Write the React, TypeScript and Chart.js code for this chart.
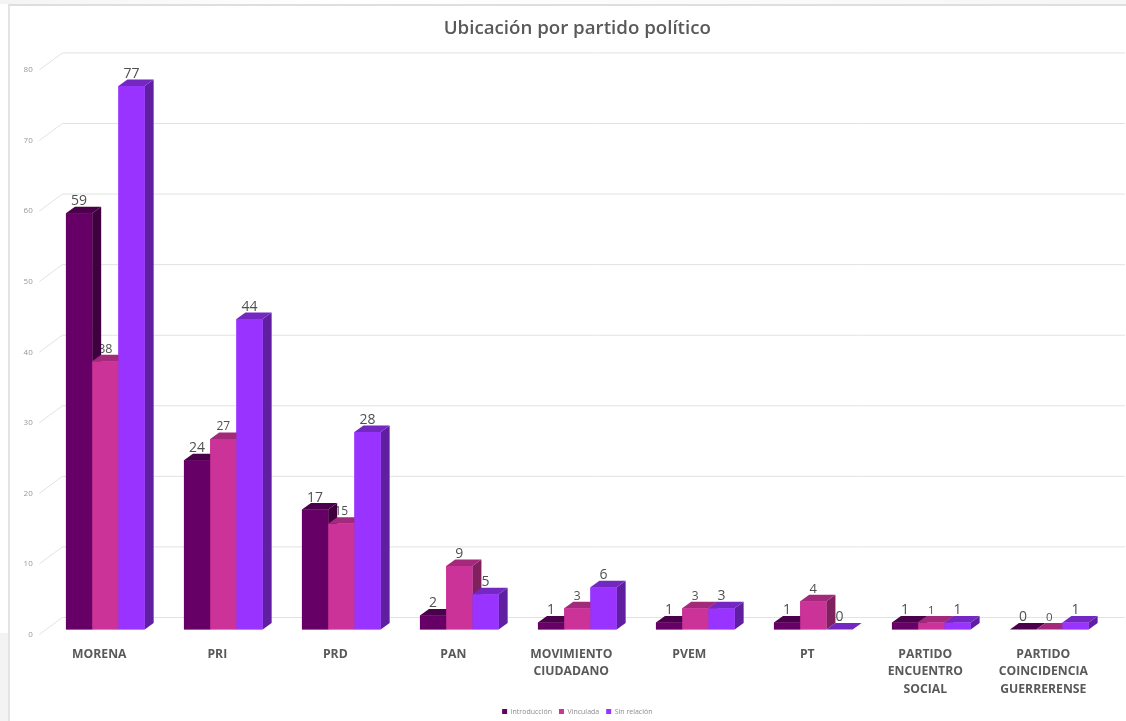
import React, { useEffect, useRef } from "react";
import { Chart, registerables } from "chart.js";

Chart.register(...registerables);

const categories: (string | string[])[] = [
  "MORENA",
  "PRI",
  "PRD",
  "PAN",
  ["MOVIMIENTO", "CIUDADANO"],
  "PVEM",
  "PT",
  ["PARTIDO", "ENCUENTRO", "SOCIAL"],
  ["PARTIDO", "COINCIDENCIA", "GUERRERENSE"],
];
const introduccion = [59, 24, 17, 2, 1, 1, 1, 1, 0];
const vinculada = [38, 27, 15, 9, 3, 3, 4, 1, 0];
const sinRelacion = [77, 44, 28, 5, 6, 3, 0, 1, 1];

const seriesNames = ["Introducción", "Vinculada", "Sin relación"];
const frontColors = ["#660066", "#cc3399", "#9933ff"];
const topColors = ["#4a004a", "#a3297a", "#7428c2"];
const sideColors = ["#3f003f", "#80205f", "#5f1fa0"];
const labelSizes = [14, 14, 14];
const vinculadaLabelSizes = [12.5, 12, 12, 14, 12, 12, 13, 11.5, 11.5];

const DEPTH_X = 9;
const DEPTH_Y = 6.5;

const bars3d = {
  id: "bars3d",
  afterLayout(chart: any) {
    // let the y-axis labels paint in the margin left of the plot
    chart.scales.y.left = 0;
  },
  beforeDatasetsDraw(chart: any) {
    const { ctx, scales, chartArea } = chart;
    const y = scales.y;
    ctx.save();
    // floor-and-wall gridlines
    ctx.strokeStyle = "#e2e2e2";
    ctx.lineWidth = 1;
    y.ticks.forEach((_: any, i: number) => {
      const py = y.getPixelForTick(i);
      ctx.beginPath();
      ctx.moveTo(chartArea.left - 7, py + 5);
      ctx.lineTo(chartArea.left + 16, py - 12);
      ctx.lineTo(1125, py - 12);
      ctx.stroke();
    });
    // value labels
    ctx.fillStyle = "#505050";
    ctx.textAlign = "center";
    ctx.textBaseline = "middle";
    chart.data.datasets.forEach((ds: any, d: number) => {
      chart.getDatasetMeta(d).data.forEach((el: any, i: number) => {
        const size = d === 1 ? vinculadaLabelSizes[i] : labelSizes[d];
        ctx.font = `${size}px "Open Sans"`;
        ctx.fillText(String(ds.data[i]), el.x, el.y - 12);
      });
    });
    ctx.restore();
  },
  afterDatasetsDraw(chart: any) {
    const { ctx } = chart;
    chart.data.datasets.forEach((_: any, d: number) => {
      chart.getDatasetMeta(d).data.forEach((el: any) => {
        const l = el.x - el.width / 2;
        const r = el.x + el.width / 2;
        const t = el.y;
        const b = el.base;
        ctx.save();
        ctx.fillStyle = sideColors[d];
        ctx.beginPath();
        ctx.moveTo(r, t);
        ctx.lineTo(r + DEPTH_X, t - DEPTH_Y);
        ctx.lineTo(r + DEPTH_X, b - DEPTH_Y);
        ctx.lineTo(r, b);
        ctx.closePath();
        ctx.fill();
        ctx.fillStyle = topColors[d];
        ctx.beginPath();
        ctx.moveTo(l, t);
        ctx.lineTo(l + DEPTH_X, t - DEPTH_Y);
        ctx.lineTo(r + DEPTH_X, t - DEPTH_Y);
        ctx.lineTo(r, t);
        ctx.closePath();
        ctx.fill();
        ctx.restore();
        el.draw(ctx);
      });
    });
  },
};

export default function App() {
  const ref = useRef<HTMLCanvasElement | null>(null);
  useEffect(() => {
    if (!ref.current) return;
    const seriesValues = [introduccion, vinculada, sinRelacion];
    const chart = new Chart(ref.current, {
      type: "bar",
      data: {
        labels: categories as any,
        datasets: seriesNames.map((name, i) => ({
          label: name,
          data: seriesValues[i],
          backgroundColor: frontColors[i],
          borderWidth: 0,
          barPercentage: 1,
          categoryPercentage: 0.667,
        })),
      },
      plugins: [bars3d],
      options: {
        animation: false,
        responsive: false,
        layout: { padding: { left: 46.3, right: 17.7, top: 0, bottom: -4 } },
        plugins: {
          tooltip: { enabled: false },
          title: {
            display: true,
            text: "Ubicación por partido político",
            color: "#595959",
            font: { family: '"Open Sans"', size: 18.7, weight: "600" as any },
            padding: { top: 17, bottom: 25.5 },
          },
          legend: {
            display: true,
            position: "bottom",
            labels: {
              color: "#8c8c8c",
              font: { family: '"Open Sans"', size: 7 },
              boxWidth: 5,
              boxHeight: 5,
              padding: 7,
            },
          },
        },
        scales: {
          x: {
            grid: { display: false, drawTicks: false },
            border: { display: false },
            afterFit: (s: any) => {
              s.height = 71.5;
            },
            ticks: {
              color: "#595959",
              font: { family: '"Open Sans"', size: 12.2, weight: "700" as any, lineHeight: 1.42 },
              padding: 16.5,
              labelOffset: -6,
              maxRotation: 0,
              minRotation: 0,
              autoSkip: false,
            },
          },
          y: {
            min: 0,
            max: 80,
            grid: { display: false, drawTicks: false },
            border: { display: false },
            afterFit: (s: any) => {
              s.width = 0;
            },
            ticks: {
              stepSize: 10,
              color: "#999999",
              font: { family: '"Open Sans"', size: 8 },
              padding: 13.6,
              labelOffset: 5,
            },
          },
        },
      },
    });
    return () => chart.destroy();
  }, []);
  return (
    <div style={{ position: "absolute", left: 0, top: 0, width: 1126, height: 721, background: "#fff", overflow: "hidden" }}>
      <div style={{ position: "absolute", left: 0, top: 0, width: 1126, height: 4, background: "linear-gradient(90deg,#f4f4f4,#ffffff 30%,#f6f6f6)" }} />
      <div style={{ position: "absolute", left: 0, top: 633, width: 8, height: 88, background: "#f3f3f3" }} />
      <div style={{ position: "absolute", left: 8, top: 4, width: 1118, height: 717, borderLeft: "2px solid #e4e4e4", borderTop: "2px solid #dedede", boxSizing: "border-box" }} />
      <canvas ref={ref} width={1126} height={721} style={{ position: "absolute", left: 0, top: 0, display: "block" }} />
    </div>
  );
}
